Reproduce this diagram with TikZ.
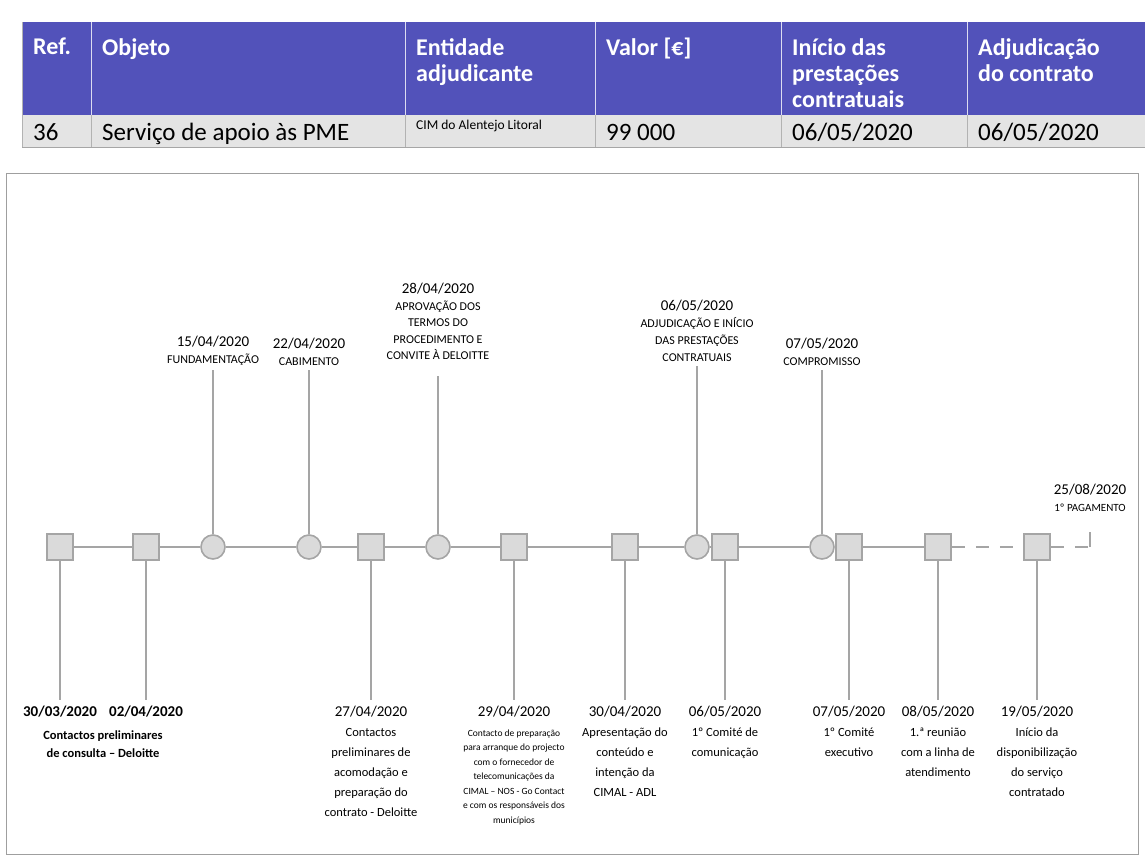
\documentclass[tikz,border=0pt]{standalone}
\usepackage{fontspec}
\setmainfont{Carlito}
\usetikzlibrary{positioning}
\definecolor{hdrblue}{RGB}{82,82,186}
\definecolor{rowgrey}{RGB}{228,228,228}
\definecolor{tlgrey}{RGB}{165,165,165}
\definecolor{mkfill}{RGB}{218,218,218}
\newcommand{\tldate}[1]{{\fontsize{15}{18}\selectfont #1}}

\begin{document}
\begin{tikzpicture}[x=1pt,y=-1pt,
    hdr/.style={anchor=north west, text=white, inner sep=0pt, align=left,
        font=\fontsize{24}{26}\selectfont\bfseries},
    cell/.style={anchor=base west, inner sep=0pt, font=\fontsize{25}{27}\selectfont},
    sq/.style={draw=tlgrey, fill=mkfill, line width=1.6pt, minimum size=26pt, inner sep=0pt},
    ci/.style={circle, draw=tlgrey, fill=mkfill, line width=1.6pt, minimum size=24pt, inner sep=0pt},
    axisline/.style={tlgrey, line width=2.6pt},
    stem/.style={tlgrey, line width=1.4pt},
    toplbl/.style={anchor=south, align=center, inner sep=4pt,
        font=\fontsize{12}{17}\selectfont},
    botlbl/.style={anchor=north, align=center, inner sep=6pt,
        font=\fontsize{12.5}{20}\selectfont},
    tinylbl/.style={anchor=north, align=center, inner sep=6pt,
        font=\fontsize{9.5}{14.5}\selectfont}
  ]
  \useasboundingbox (0,0) rectangle (1145,856);

  % table
  \fill[hdrblue] (22,22) rectangle (1145,115);
  \fill[rowgrey] (22,115) rectangle (1145,147);
  \draw[gray!70, line width=0.8pt] (22,147) -- (1145,147);
  \foreach \cx in {91,405,595,781,967} {
    \draw[white!80!hdrblue, line width=0.8pt] (\cx,22) -- (\cx,115);
    \draw[gray!60, line width=0.8pt] (\cx,115) -- (\cx,147);
  }
  \draw[gray!60, line width=0.8pt] (22,22) -- (22,147);

  \node[hdr] (h_ref) at (33,38) {Ref.};
  \node[hdr] (h_obj) at (102,38) {Objeto};
  \node[hdr] (h_ent) at (416,38) {Entidade\\adjudicante};
  \node[hdr] (h_val) at (606,38) {Valor [€]};
  \node[hdr] (h_ini) at (792,38) {Início das\\prestações\\contratuais};
  \node[hdr] (h_adj) at (978,38) {Adjudicação\\do contrato};

  \node[cell] (c_ref) at (33,140) {36};
  \node[cell] (c_obj) at (102,140) {Serviço de apoio às PME};
  \node[cell, font=\fontsize{13.5}{15}\selectfont] (c_ent) at (416,129) {CIM do Alentejo Litoral};
  \node[cell] (c_val) at (606,140) {99 000};
  \node[cell] (c_ini) at (792,140) {06/05/2020};
  \node[cell] (c_adj) at (978,140) {06/05/2020};

  % frame round the timeline
  \draw[gray!75, line width=0.8pt] (6,173) rectangle (1138,854);

  % markers on the axis
  \node[sq] (m1)  at (60,547)   {};
  \node[sq] (m2)  at (146,547)  {};
  \node[ci] (m3)  at (213,547)  {};
  \node[ci] (m4)  at (309,547)  {};
  \node[sq] (m5)  at (371,547)  {};
  \node[ci] (m6)  at (438,547)  {};
  \node[sq] (m7)  at (514,547)  {};
  \node[sq] (m8)  at (625,547)  {};
  \node[ci] (m9)  at (697,547)  {};
  \node[sq] (m10) at (725,547)  {};
  \node[ci] (m11) at (822,547)  {};
  \node[sq] (m12) at (849,547)  {};
  \node[sq] (m13) at (938,547)  {};
  \node[sq] (m14) at (1037,547) {};
  \coordinate (m15) at (1090,547);
  \coordinate (m15top) at (1090,532);

  \draw[axisline] (m1) -- (m2) -- (m3) -- (m4) -- (m5) -- (m6) -- (m7) -- (m8)
    -- (m9) -- (m10) -- (m11) -- (m12) -- (m13);
  \draw[axisline, dash pattern=on 13pt off 11pt] (m13) -- (m14);
  \draw[axisline, dash pattern=on 13pt off 11pt] (m14) -- (m15);

  % labels above the axis
  \node[toplbl] (l3)  at (213,370) {\tldate{15/04/2020}\\FUNDAMENTAÇÃO};
  \node[toplbl] (l4)  at (309,370) {\tldate{22/04/2020}\\CABIMENTO};
  \node[toplbl, font=\fontsize{12}{16.5}\selectfont] (l6) at (438,364)
    {\tldate{28/04/2020}\\APROVAÇÃO DOS\\TERMOS DO\\PROCEDIMENTO E\\CONVITE À DELOITTE};
  \node[toplbl] (l9)  at (697,366) {\tldate{06/05/2020}\\ADJUDICAÇÃO E INÍCIO\\DAS PRESTAÇÕES\\CONTRATUAIS};
  \node[toplbl] (l11) at (822,370) {\tldate{07/05/2020}\\COMPROMISSO};
  \node[toplbl, font=\fontsize{11}{17}\selectfont, above=16pt of m15top] (l15)
    {\tldate{25/08/2020}\\1º PAGAMENTO};

  \draw[stem] (m3) -- (l3);
  \draw[stem] (m4) -- (l4);
  \draw[stem, shorten >=12pt] (m6) -- (l6);
  \draw[stem] (m9) -- (l9);
  \draw[stem] (m11) -- (l11);
  \draw[stem] (m15) -- (m15top);

  % labels below the axis
  \node[botlbl] (b1) at (60,700) {\textbf{\tldate{30/03/2020}}};
  \node[botlbl] (b2) at (146,700) {\textbf{\tldate{02/04/2020}}};
  \node[botlbl, anchor=north, inner sep=0pt, font=\fontsize{12.5}{18}\selectfont\bfseries]
    (b12) at (103,731) {Contactos preliminares\\de consulta – Deloitte};
  \node[botlbl] (b5) at (371,700)
    {\tldate{27/04/2020}\\Contactos\\preliminares de\\acomodação e\\preparação do\\contrato - Deloitte};
  \node[tinylbl] (b7) at (514,700)
    {\tldate{29/04/2020}\\[5pt]Contacto de preparação\\para arranque do projecto\\com o fornecedor de\\telecomunicações da\\CIMAL – NOS - Go Contact\\e com os responsáveis dos\\municípios};
  \node[botlbl] (b8) at (625,700)
    {\tldate{30/04/2020}\\Apresentação do\\conteúdo e\\intenção da\\CIMAL - ADL};
  \node[botlbl] (b10) at (725,700) {\tldate{06/05/2020}\\1º Comité de\\comunicação};
  \node[botlbl] (b12x) at (849,700) {\tldate{07/05/2020}\\1º Comité\\executivo};
  \node[botlbl] (b13) at (938,700) {\tldate{08/05/2020}\\1.ª reunião\\com a linha de\\atendimento};
  \node[botlbl] (b14) at (1037,700)
    {\tldate{19/05/2020}\\Início da\\disponibilização\\do serviço\\contratado};

  \draw[stem] (m1) -- (b1);
  \draw[stem] (m2) -- (b2);
  \draw[stem] (m5) -- (b5);
  \draw[stem] (m7) -- (b7);
  \draw[stem] (m8) -- (b8);
  \draw[stem] (m10) -- (b10);
  \draw[stem] (m12) -- (b12x);
  \draw[stem] (m13) -- (b13);
  \draw[stem] (m14) -- (b14);
\end{tikzpicture}
\end{document}
